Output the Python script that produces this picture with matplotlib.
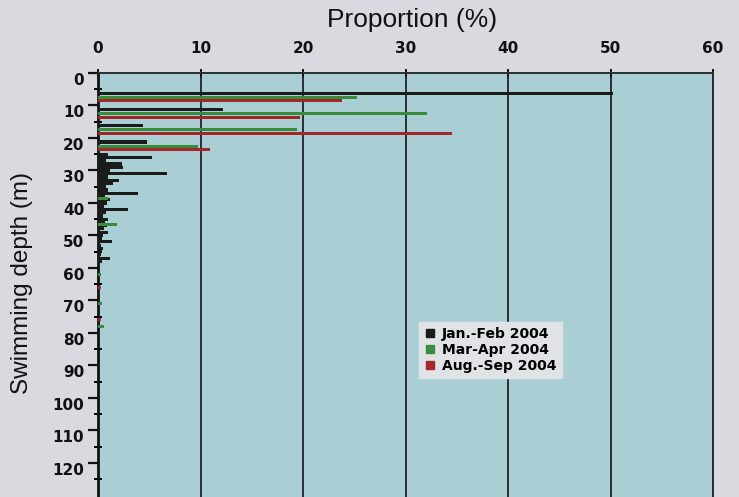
import matplotlib

matplotlib.use("Agg")

import matplotlib.pyplot as plt
from matplotlib.lines import Line2D
from matplotlib.transforms import ScaledTranslation

# Upper 5 m bins: one bar per season, grouped around the bin centre
bin_centres = [7.5, 12.5, 17.5, 22.5]
jan_feb_bins = [50.2, 12.2, 4.4, 4.8]
mar_apr_bins = [25.3, 32.1, 19.4, 9.8]
aug_sep_bins = [23.8, 19.7, 34.5, 10.9]

# Finer 1 m records below 25 m
jan_feb_deep_depth = [25, 26, 27, 28, 29, 30, 31, 32, 33, 34, 35, 36, 37, 38, 39, 40, 41,
                      42, 43, 44, 45, 46, 47, 48, 49, 50, 51, 52, 53, 54, 55, 56, 57, 58]
jan_feb_deep = [1.0, 5.3, 0.8, 2.3, 2.4, 1.2, 6.7, 1.0, 2.0, 1.5, 0.8, 1.0, 3.9, 0.7, 1.2, 0.9, 0.6,
                2.9, 0.8, 0.5, 1.0, 0.7, 0.9, 0.6, 1.0, 0.5, 0.4, 1.4, 0.3, 0.5, 0.4, 0.3, 1.2, 0.4]
mar_apr_deep_depth = [38.5, 46.5, 62, 71, 78]
mar_apr_deep = [1.0, 1.9, 0.3, 0.4, 0.6]
aug_sep_deep_depth = [66, 76]
aug_sep_deep = [0.3, 0.3]

x_ticks = [0, 10, 20, 30, 40, 50, 60]
y_ticks = [0, 10, 20, 30, 40, 50, 60, 70, 80, 90, 100, 110, 120]

BLACK = "#1b1b1b"
GREEN = "#3a8c3d"
RED = "#a3272b"

fig = plt.figure(figsize=(7.39, 4.97), dpi=100, facecolor="#d8dadf")
ax = fig.add_axes([98 / 739, 0, 615 / 739, 424 / 497])
ax.set_facecolor("#a9cfd5")

bar_h = 0.95
ax.barh([d - 1.25 for d in bin_centres], jan_feb_bins, height=bar_h, color=BLACK, zorder=3)
ax.barh(bin_centres, mar_apr_bins, height=bar_h, color=GREEN, zorder=3)
ax.barh([d + 1.1 for d in bin_centres], aug_sep_bins, height=bar_h, color=RED, zorder=3)

ax.barh(jan_feb_deep_depth, jan_feb_deep, height=bar_h, color=BLACK, zorder=3)
ax.barh(mar_apr_deep_depth, mar_apr_deep, height=bar_h, color=GREEN, zorder=3)
ax.barh(aug_sep_deep_depth, aug_sep_deep, height=bar_h, color=RED, zorder=3)

ax.set_xlim(0, 60)
ax.set_ylim(130.5, 0)

ax.xaxis.tick_top()
ax.set_xticks(x_ticks)
ax.set_yticks(y_ticks)
ax.set_yticks([5 + t for t in y_ticks], minor=True)
ax.tick_params(axis="x", direction="inout", length=6, width=1.4, pad=9,
               labelsize=11, colors="#111111")
ax.tick_params(axis="y", which="major", direction="out", length=7, width=1.6, pad=3,
               labelsize=11, colors="#111111")
ax.tick_params(axis="y", which="minor", direction="inout", length=6, width=1.4)

# depth labels sit a little below their ticks
shift = ScaledTranslation(0, -6 / 100, fig.dpi_scale_trans)
for lab in ax.get_yticklabels():
    lab.set_fontweight("bold")
    lab.set_transform(lab.get_transform() + shift)
for lab in ax.get_xticklabels():
    lab.set_fontweight("bold")

ax.grid(axis="x", color="#2a2e32", linewidth=1.4, zorder=1)
for side in ["top", "right"]:
    ax.spines[side].set_color("#2a2e32")
    ax.spines[side].set_linewidth(1.4)
ax.spines["left"].set_color("#111111")
ax.spines["left"].set_linewidth(2.0)
ax.spines["bottom"].set_visible(False)

fig.text(412 / 739, 1 - 20 / 497, "Proportion (%)", ha="center", va="center",
         fontsize=19, family=["Liberation Sans", "DejaVu Sans"], color="#111111")
fig.text(22 / 739, 1 - 283 / 497, "Swimming depth (m)", ha="center", va="center",
         rotation=90, fontsize=17.5, family=["Liberation Sans", "DejaVu Sans"], color="#111111")

handles = [
    Line2D([], [], marker="s", linestyle="none", markersize=5.5, color=BLACK, label="Jan.-Feb 2004"),
    Line2D([], [], marker="s", linestyle="none", markersize=5.5, color=GREEN, label="Mar-Apr 2004"),
    Line2D([], [], marker="s", linestyle="none", markersize=5.5, color=RED, label="Aug.-Sep 2004"),
]
leg = ax.legend(handles=handles, loc="upper left", bbox_to_anchor=(0.51, 0.43),
                frameon=True, fancybox=False, facecolor="#dfe3e6", edgecolor="#dfe3e6",
                framealpha=1, handlelength=0.8, handletextpad=0.5, labelspacing=0.12,
                borderpad=0.4, prop={"weight": "bold", "size": 10})
leg.set_zorder(5)

fig.savefig("out.png", dpi=100, facecolor=fig.get_facecolor())
